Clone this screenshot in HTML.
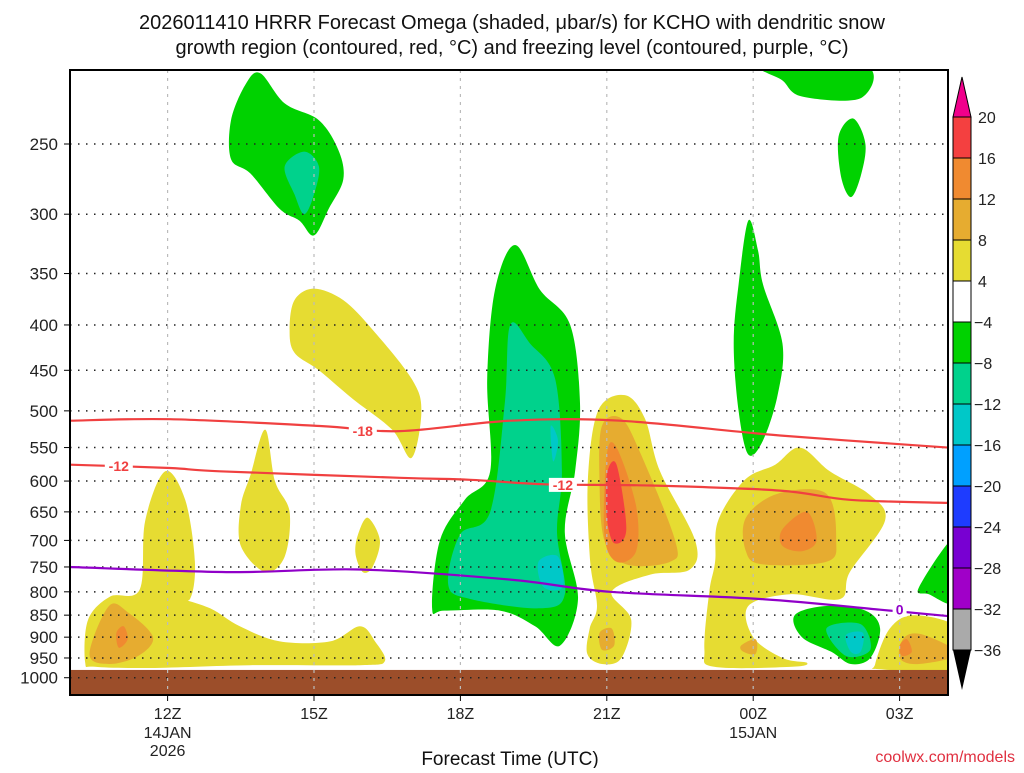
<!DOCTYPE html>
<html><head><meta charset="utf-8"><style>
body{margin:0;background:#fff;width:1024px;height:768px;overflow:hidden;font-family:"Liberation Sans",sans-serif}
svg text{font-family:"Liberation Sans",sans-serif}
</style></head><body>
<svg id="chart" width="1024" height="768" viewBox="0 0 1024 768" xmlns="http://www.w3.org/2000/svg">
<text x="512" y="29" text-anchor="middle" font-size="20" fill="#111">2026011410 HRRR Forecast Omega (shaded, μbar/s) for KCHO with dendritic snow</text>
<text x="512" y="54" text-anchor="middle" font-size="20" fill="#111">growth region (contoured, red, °C) and freezing level (contoured, purple, °C)</text>
<defs><clipPath id="pc"><rect x="70" y="70" width="878" height="625"/></clipPath></defs>
<g id="fills" clip-path="url(#pc)"></g>
<g id="grid"></g>
<g id="lines" clip-path="url(#pc)"></g>
<rect x="70" y="70" width="878" height="625" fill="none" stroke="#000" stroke-width="2"/>
<g id="axes"></g>
<g id="cbar"></g>
<text x="510" y="765" text-anchor="middle" font-size="19" fill="#111">Forecast Time (UTC)</text>
<text x="1015" y="762" text-anchor="end" font-size="16" fill="#e03040" font-family="Liberation Mono">coolwx.com/models</text>
</svg>
<script>
// ---- data ----
const pressureTicks=[250,300,350,400,450,500,550,600,650,700,750,800,850,900,950,1000];
const timeTickHours=[2,5,8,11,14,17];
const timeTickLabels=["12Z","15Z","18Z","21Z","00Z","03Z"];
const cbarLevels=[20,16,12,8,4,-4,-8,-12,-16,-20,-24,-28,-32,-36];
const cbarColors=["#f44040","#f08a30","#e6ac30","#e6dc32","#ffffff","#00d200","#00d28c","#00c8c8","#00a0ff","#1e3cff","#7800d2","#a000c8","#aaaaaa"];
const C={green:"#00d200",teal:"#00d28c",cyan:"#00c8c8",yellow:"#e6dc32",gold:"#e6ac30",orange:"#f08a30",red:"#f44040"};
const greenAreas=[
 [[3.3,235],[3.6,214],[3.9,208],[4.4,225],[5.1,235],[5.5,254],[5.6,274],[5.3,296],[5.0,317],[4.7,305],[4.3,296],[3.7,270],[3.3,260]],
 [[14.2,204],[16.3,204],[16.2,222],[15.0,221],[14.6,212]],
 [[15.75,245],[16.05,234],[16.3,250],[16.2,272],[16.0,287],[15.8,272]],
 [[13.9,305],[14.1,330],[14.2,360],[14.6,420],[14.5,480],[14.2,540],[13.9,560],[13.7,500],[13.6,420],[13.7,360]],
 [[7.42,835],[7.58,700],[8.09,630],[8.61,585],[8.55,460],[8.71,365],[9.12,325],[9.63,365],[10.25,400],[10.45,490],[10.35,585],[10.14,685],[10.41,815],[10.04,920],[9.53,875],[8.81,840],[7.68,840]],
 [[14.85,850],[15.5,830],[16.3,840],[16.6,880],[16.4,950],[16.0,965],[15.6,935],[15.0,900]],
 [[17.4,790],[18.2,690],[18.2,820],[17.6,805]]
];
const tealAreas=[
 [[4.4,265],[4.8,255],[5.1,265],[5.0,285],[4.8,300],[4.6,285]],
 [[7.75,785],[7.99,690],[8.61,650],[8.91,490],[9.02,400],[9.43,420],[9.94,460],[10.08,585],[9.98,685],[10.14,805],[9.63,835],[8.2,815]],
 [[15.5,880],[16.2,870],[16.4,930],[15.9,945]]
];
const cyanAreas=[
 [[9.85,520],[10.0,540],[9.9,570]],
 [[9.6,740],[10.0,730],[10.1,790],[9.7,790]],
 [[15.9,895],[16.25,890],[16.2,935],[16.0,935]]
];
const yellowAreas=[
 [[4.6,375],[5.0,364],[5.6,375],[6.2,405],[7.0,460],[7.2,500],[7.0,565],[6.6,525],[5.8,485],[5.1,450],[4.6,430],[4.5,405]],
 [[0.31,960],[0.37,860],[0.82,810],[1.43,795],[1.54,665],[1.95,585],[2.36,630],[2.56,740],[2.46,815],[2.15,810],[2.87,835],[3.48,875],[4.3,910],[5.33,910],[5.94,875],[6.25,910],[6.45,958],[5.94,968],[3.69,968],[1.64,975],[0.51,972]],
 [[3.5,640],[3.7,590],[4.0,525],[4.2,600],[4.5,650],[4.4,730],[4.0,760],[3.5,710]],
 [[5.9,690],[6.1,660],[6.35,700],[6.2,750],[6.0,760],[5.85,725]],
 [[10.82,500],[11.37,480],[11.78,510],[12.09,585],[12.81,700],[12.7,755],[11.89,765],[11.1,800],[11.5,860],[11.3,950],[10.9,965],[10.6,940],[10.65,880],[10.8,830],[10.66,740],[10.61,600]],
 [[13.28,665],[13.83,598],[14.45,575],[14.96,550],[15.57,585],[16.39,622],[16.7,665],[15.98,760],[15.78,815],[14.75,805],[13.9,830],[14.0,900],[14.6,950],[15.1,962],[14.8,972],[13.2,972],[13.0,930],[13.1,800],[13.22,740]],
 [[16.5,965],[16.8,880],[17.3,850],[18.2,880],[18.2,980],[16.6,978]]
];
const goldAreas=[
 [[0.4,940],[0.8,830],[1.2,845],[1.7,900],[1.4,945],[0.8,965]],
 [[10.9,520],[11.3,510],[11.7,560],[12.4,700],[12.3,740],[11.4,745],[10.95,700],[10.85,600]],
 [[10.85,890],[11.1,880],[11.15,920],[10.9,930]],
 [[13.85,660],[14.5,620],[15.5,620],[15.7,700],[15.5,740],[14.2,745],[13.85,720]],
 [[13.75,920],[14.05,905],[14.05,940],[13.8,935]],
 [[17.1,900],[17.5,895],[18.2,940],[17.4,965],[17.0,950]]
];
const orangeAreas=[
 [[0.95,890],[1.1,875],[1.18,905],[1.0,925]],
 [[11.0,560],[11.2,550],[11.6,640],[11.6,720],[11.2,740],[10.95,690]],
 [[14.6,680],[15.1,650],[15.3,700],[15.0,720],[14.6,710]],
 [[17.0,920],[17.15,905],[17.25,935],[17.05,945]]
];
const redAreas=[
 [[11.0,590],[11.2,575],[11.4,680],[11.15,705],[11.0,660]]
];
const lineM18Hours=[0,2.05,5.12,6.76,9.02,11.27,14.55,18];
const lineM18Pres=[513,511,520,527,513,513,533,550];
const lineM12Hours=[0,2.05,3.07,6.76,8.2,9.73,11.89,14.55,15.98,18];
const lineM12Pres=[575,580,585,595,598,605,607,615,630,635];
const line0Hours=[0,3.28,5.94,9.02,11.07,14.14,16.6,18];
const line0Pres=[750,760,755,775,800,815,838,852];
// ---- scales ----
const X=h=>70+48.8*h;
const Y=p=>144+385*Math.log(p/250);
const NS="http://www.w3.org/2000/svg";
function mk(tag,attrs,parent){const e=document.createElementNS(NS,tag);for(const k in attrs)e.setAttribute(k,attrs[k]);parent.appendChild(e);return e;}
function smoothPath(pts,closed){
 const P=pts.map(q=>[X(q[0]),Y(q[1])]);const n=P.length;
 let d="M"+P[0][0].toFixed(1)+","+P[0][1].toFixed(1);
 const g=i=>closed?P[(i+n)%n]:P[Math.max(0,Math.min(n-1,i))];
 const m=closed?n:n-1;
 for(let i=0;i<m;i++){const p0=g(i-1),p1=g(i),p2=g(i+1),p3=g(i+2);
  d+="C"+(p1[0]+(p2[0]-p0[0])/6).toFixed(1)+","+(p1[1]+(p2[1]-p0[1])/6).toFixed(1)+" "+(p2[0]-(p3[0]-p1[0])/6).toFixed(1)+","+(p2[1]-(p3[1]-p1[1])/6).toFixed(1)+" "+p2[0].toFixed(1)+","+p2[1].toFixed(1);}
 return d+(closed?"Z":"");
}
const fills=document.getElementById('fills');
[[greenAreas,C.green,'green-area'],[tealAreas,C.teal,'teal-area'],[cyanAreas,C.cyan,'cyan-area'],[yellowAreas,C.yellow,'yellow-area'],[goldAreas,C.gold,'gold-area'],[orangeAreas,C.orange,'orange-area'],[redAreas,C.red,'red-area']].forEach(([arr,col,name])=>{
 arr.forEach(a=>{const e=mk('path',{d:smoothPath(a,true),fill:col},fills);
  
  });
});
const groundRect=mk('rect',{x:70,y:Y(980),width:878,height:695-Y(980),fill:"#9c4e2a"},fills);


// grid & axes
const gridG=document.getElementById('grid'),axesG=document.getElementById('axes');
pressureTicks.forEach(p=>{
 const gl=mk('line',{x1:70,x2:948,y1:Y(p),y2:Y(p),stroke:"#222","stroke-width":1.5,"stroke-dasharray":"1.5,6.5"},gridG);
 
 
 mk('line',{x1:64,x2:70,y1:Y(p),y2:Y(p),stroke:"#000"},axesG);
 const t=mk('text',{x:58,y:Y(p)+6,"text-anchor":"end","font-size":17,fill:"#222"},axesG);t.textContent=p;
 
 
});
timeTickHours.forEach((h,i)=>{
 const gl=mk('line',{x1:X(h),x2:X(h),y1:70,y2:695,stroke:"#bbb","stroke-width":1.2,"stroke-dasharray":"3,5"},gridG);
 
 
 mk('line',{x1:X(h),x2:X(h),y1:695,y2:701,stroke:"#000"},axesG);
 const t=mk('text',{x:X(h),y:719,"text-anchor":"middle","font-size":16,fill:"#222"},axesG);t.textContent=timeTickLabels[i];
 
 
});
[["14JAN",X(2),738],["2026",X(2),756],["15JAN",X(14),738]].forEach(([s,x,y])=>{const t=mk('text',{x:x,y:y,"text-anchor":"middle","font-size":16,fill:"#222"},axesG);t.textContent=s;
 
 });
// contour lines
const linesG=document.getElementById('lines');
function drawLine(hs,ps,col,name){const e=mk('path',{d:smoothPath(hs.map((h,i)=>[h,ps[i]]),false),fill:"none",stroke:col,"stroke-width":2.2},linesG);
 
 }
drawLine(lineM18Hours,lineM18Pres,"#f04040","contour-minus18");
drawLine(lineM12Hours,lineM12Pres,"#f04040","contour-minus12");
drawLine(line0Hours,line0Pres,"#9000c8","freezing-level-0");
[["-18",6.0,527,"#f04040",28],["-12",1.0,577,"#f04040",28],["-12",10.1,606,"#f04040",28],["0",17.0,838,"#9000c8",14]].forEach(([s,h,p,c,w])=>{
 mk('rect',{x:X(h)-w/2,y:Y(p)-7,width:w,height:14,fill:"#fff"},linesG);
 const t=mk('text',{x:X(h),y:Y(p)+5,"text-anchor":"middle","font-size":14,"font-weight":"bold",fill:c},linesG);t.textContent=s;
 
 });
// colorbar
const cbG=document.getElementById('cbar');
const cy=i=>117+i*41;
const overTri=mk('polygon',{points:"953,117 971,117 962,77",fill:"#f0008c",stroke:"#000"},cbG);


cbarColors.forEach((c,i)=>{const r=mk('rect',{x:953,y:cy(i),width:18,height:41,fill:c,stroke:"#000","stroke-width":1},cbG);
 
 });
const underTri=mk('polygon',{points:"953,650 971,650 962,690",fill:"#000"},cbG);


cbarLevels.forEach((v,i)=>{const t=mk('text',{x:v<0?974:978,y:cy(i)+6,"font-size":16,fill:"#222"},cbG);t.textContent=v<0?"−"+(-v):v;
 
 });
</script>
</body></html>
